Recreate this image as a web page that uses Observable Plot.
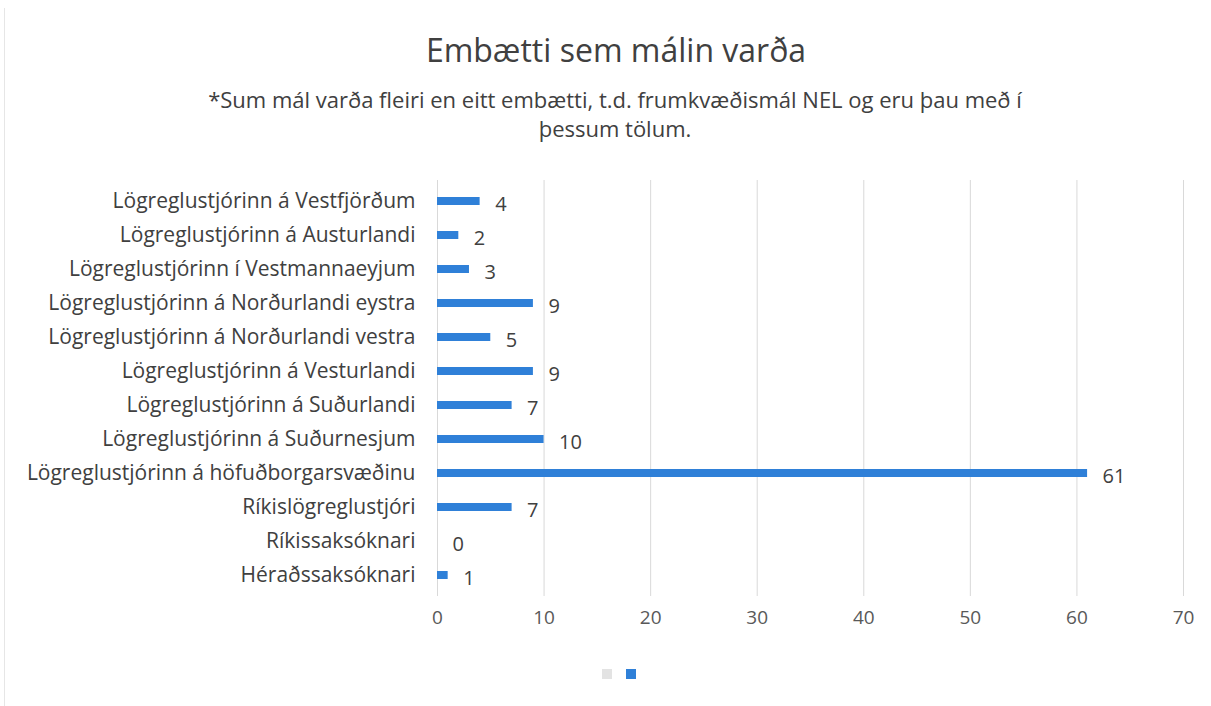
<!DOCTYPE html>
<html>
<head>
<meta charset="utf-8">
<script src="https://cdn.jsdelivr.net/npm/d3@7"></script>
<script src="https://cdn.jsdelivr.net/npm/@observablehq/plot@0.6"></script>
<style>
  html, body { margin: 0; padding: 0; background: #fff; }
  #wrap { position: relative; width: 1211px; height: 706px; overflow: hidden; font-family: "Open Sans", sans-serif; }
  #border { position: absolute; left: 4px; top: 8px; width: 1px; height: 698px; background: #e6e6e6; }
  #title { position: absolute; top: 30px; left: 0; width: 1232px; text-align: center; font-size: 32px; line-height: 40px; color: #404040; }
  #subtitle { position: absolute; top: 85px; left: 0; width: 1230px; text-align: center; font-size: 22px; line-height: 29px; color: #404040; }
  #chart { position: absolute; top: 170px; left: 0; }
  #legend { position: absolute; top: 669px; left: 0; width: 1211px; }
  .sw { position: absolute; width: 10px; height: 10px; }
</style>
</head>
<body>
<div id="wrap">
  <div id="border"></div>
  <div id="title">Embætti sem málin varða</div>
  <div id="subtitle">*Sum mál varða fleiri en eitt embætti, t.d. frumkvæðismál NEL og eru þau með í<br>þessum tölum.</div>
  <div id="chart"></div>
  <div id="legend">
    <div class="sw" style="left:602px; background:#e3e3e3;"></div>
    <div class="sw" style="left:626px; background:#2f80d8;"></div>
  </div>
</div>
<script>
const categories = [
  "Lögreglustjórinn á Vestfjörðum",
  "Lögreglustjórinn á Austurlandi",
  "Lögreglustjórinn í Vestmannaeyjum",
  "Lögreglustjórinn á Norðurlandi eystra",
  "Lögreglustjórinn á Norðurlandi vestra",
  "Lögreglustjórinn á Vesturlandi",
  "Lögreglustjórinn á Suðurlandi",
  "Lögreglustjórinn á Suðurnesjum",
  "Lögreglustjórinn á höfuðborgarsvæðinu",
  "Ríkislögreglustjóri",
  "Ríkissaksóknari",
  "Héraðssaksóknari"
];
const values = [4, 2, 3, 9, 5, 9, 7, 10, 61, 7, 0, 1];
const xTicks = [0, 10, 20, 30, 40, 50, 60, 70];

const data = categories.map((c, i) => ({category: c, value: values[i]}));

const chart = Plot.plot({
  width: 1211,
  height: 486,
  marginTop: 10,
  marginBottom: 60,
  marginLeft: 437,
  marginRight: 28,
  style: {fontFamily: "Open Sans, sans-serif", color: "#404040", background: "transparent"},
  x: {domain: [0, 70], ticks: xTicks},
  y: {domain: categories, padding: 0},
  marks: [
    Plot.gridX(xTicks, {stroke: "#d9d9d9", strokeOpacity: 1}),
    Plot.barX(data, {x: "value", y: "category", fill: "#2f80d8", insetTop: 13, insetBottom: 13}),
    Plot.text(data, {x: "value", y: "category", text: d => String(d.value), textAnchor: "start", dx: 15, dy: 3, fontSize: 20, fill: "#404040"}),
    Plot.axisY({tickSize: 0, tickPadding: 22, fontSize: 21, fill: "#404040", label: null}),
    Plot.axisX(xTicks, {tickSize: 0, tickPadding: 14, fontSize: 19, fill: "#595959", label: null})
  ]
});
document.getElementById("chart").appendChild(chart);
</script>
</body>
</html>
